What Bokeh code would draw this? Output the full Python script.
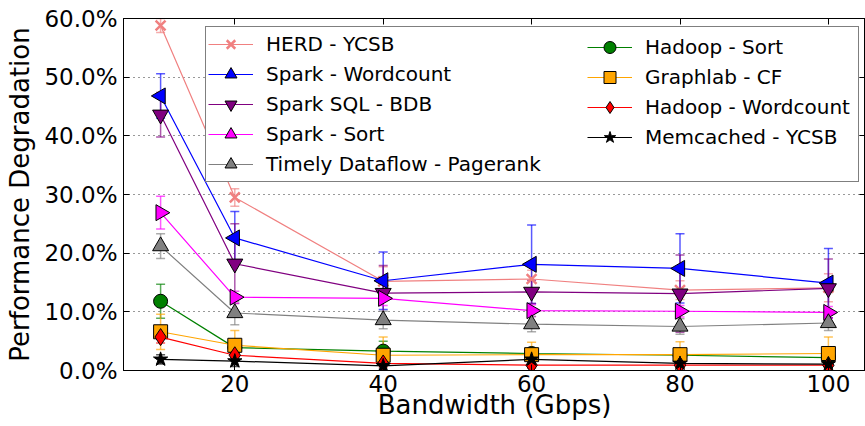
import math
from bokeh.plotting import figure
from bokeh.models import (Range1d, FixedTicker, PrintfTickFormatter, LinearAxis, Legend,
                          LegendItem, Whisker, ColumnDataSource, TeeHead)
from bokeh.embed import file_html
from bokeh.resources import INLINE

# ---------------- data ----------------
bandwidth = [10, 20, 40, 60, 80, 100]
x_ticks = [20, 40, 60, 80, 100]
y_ticks = [0, 10, 20, 30, 40, 50, 60]

names = ["HERD - YCSB", "Spark - Wordcount", "Spark SQL - BDB", "Spark - Sort",
         "Timely Dataflow - Pagerank", "Hadoop - Sort", "Graphlab - CF",
         "Hadoop - Wordcount", "Memcached - YCSB"]

herd = [58.8, 29.5, 15.2, 15.6, 13.7, 14.1]
herd_err = [1.2, 1.5, 2.5, 1.5, 1.6, 2.4]
spark_wc = [46.8, 22.6, 15.3, 18.1, 17.4, 14.9]
spark_wc_err = [3.8, 4.5, 4.9, 6.7, 5.9, 5.9]
spark_sql = [43.6, 18.2, 13.2, 13.4, 13.1, 14.0]
spark_sql_err = [3.8, 6.8, 4.7, 2.0, 6.6, 5.0]
spark_sort = [26.9, 12.5, 12.3, 10.2, 10.1, 9.9]
spark_sort_err = [2.8, 1.0, 1.2, 1.0, 1.0, 1.0]
timely = [21.2, 9.8, 8.6, 7.9, 7.5, 8.1]
timely_err = [2.1, 2.0, 1.5, 1.3, 1.3, 1.3]
hadoop_sort = [11.8, 3.9, 3.3, 2.9, 2.6, 2.2]
hadoop_sort_err = [2.9, 0.8, 1.7, 0.8, 0.8, 0.5]
graphlab = [6.6, 4.3, 2.6, 2.7, 2.7, 2.9]
graphlab_err = [3.0, 2.5, 3.1, 2.1, 2.2, 2.8]
hadoop_wc = [5.7, 2.6, 1.2, 0.9, 0.9, 0.9]
hadoop_wc_err = [1.0, 0.8, 0.6, 0.5, 0.5, 0.5]
memcached = [1.9, 1.6, 0.8, 1.9, 1.2, 1.1]
memcached_err = [0.8, 0.9, 0.6, 0.8, 0.6, 0.5]

series = [herd, spark_wc, spark_sql, spark_sort, timely, hadoop_sort, graphlab, hadoop_wc, memcached]
errors = [herd_err, spark_wc_err, spark_sql_err, spark_sort_err, timely_err,
          hadoop_sort_err, graphlab_err, hadoop_wc_err, memcached_err]

x_label = "Bandwidth (Gbps)"
y_label = "Performance Degradation"

# ---------------- styles ----------------
colors = ["#F08080", "blue", "purple", "magenta", "gray", "green", "orange", "red", "black"]
markers = ["x", "triangle", "inverted_triangle", "triangle", "triangle", "circle", "square", "diamond", "star"]
angles = [0, math.pi / 2, 0, -math.pi / 2, 0, 0, 0, 0, 0]
sizes = [14, 16, 16, 16, 16, 14, 14, 17, 15]

FONT = "DejaVu Sans"

p = figure(width=865, height=426, output_backend="svg", toolbar_location=None,
           x_range=Range1d(5, 105), y_range=Range1d(0, 60),
           min_border_left=123, min_border_right=0, min_border_top=18, min_border_bottom=56)
p.outline_line_color = "black"
p.outline_line_width = 1
p.background_fill_color = "white"
p.border_fill_color = "white"

p.xgrid.visible = False
p.ygrid.grid_line_color = "black"
p.ygrid.grid_line_dash = "1 4"
p.ygrid.grid_line_alpha = 0.8
p.ygrid.grid_line_width = 1

for ax in (p.xaxis[0], p.yaxis[0]):
    ax.major_tick_in = 6
    ax.major_tick_out = 0
    ax.minor_tick_in = 0
    ax.minor_tick_out = 0
    ax.major_label_text_font = FONT
    ax.major_label_text_font_size = "23px"
    ax.major_label_text_color = "black"
    ax.axis_label_text_font = FONT
    ax.axis_label_text_font_size = "26px"
    ax.axis_label_text_font_style = "normal"
    ax.axis_label_text_color = "black"
    ax.axis_line_color = "black"
    ax.major_tick_line_color = "black"

p.xaxis.ticker = FixedTicker(ticks=x_ticks)
p.yaxis.ticker = FixedTicker(ticks=y_ticks)
p.yaxis.formatter = PrintfTickFormatter(format="%.1f%%")
p.xaxis.axis_label = x_label
p.yaxis.axis_label = y_label
p.xaxis.major_label_standoff = 4
p.xaxis.axis_label_standoff = -5
p.yaxis.major_label_standoff = 6
p.yaxis.axis_label_standoff = 6

# top and right tick-only axes
top = LinearAxis(ticker=FixedTicker(ticks=x_ticks),
                 major_label_overrides={t: "" for t in x_ticks},
                 major_label_text_font_size="10px",
                 major_tick_in=6, major_tick_out=0, minor_tick_in=0, minor_tick_out=0,
                 major_label_standoff=0, axis_line_color="black")
right = LinearAxis(ticker=FixedTicker(ticks=y_ticks),
                   major_label_overrides={t: "" for t in y_ticks},
                   major_label_text_font_size="10px",
                   major_tick_in=6, major_tick_out=0, minor_tick_in=0, minor_tick_out=0,
                   major_label_standoff=0, axis_line_color="black")
p.add_layout(top, "above")
p.add_layout(right, "right")

items = []
for name, ys, err, col, mk, ang, sz in zip(names, series, errors, colors, markers, angles, sizes):
    lower = [y - e for y, e in zip(ys, err)]
    upper = [y + e for y, e in zip(ys, err)]
    src = ColumnDataSource(dict(x=bandwidth, y=ys, lower=lower, upper=upper))
    w = Whisker(source=src, base="x", lower="lower", upper="upper",
                line_color=col, line_alpha=0.65, line_width=1.5,
                upper_head=TeeHead(size=9, line_color=col, line_alpha=0.65, line_width=1.5),
                lower_head=TeeHead(size=9, line_color=col, line_alpha=0.65, line_width=1.5))
    p.add_layout(w)
    lr = p.line("x", "y", source=src, line_color=col, line_width=1.2)
    if mk == "x":
        sr = p.scatter("x", "y", source=src, marker=mk, size=sz, line_color=col, line_width=2.5)
    else:
        sr = p.scatter("x", "y", source=src, marker=mk, size=sz, angle=ang,
                       fill_color=col, line_color="black", line_width=1)
    items.append(LegendItem(label=name, renderers=[lr, sr]))

common = dict(label_text_font=FONT, label_text_font_size="20px", label_text_color="black",
              glyph_width=45, glyph_height=30, label_height=20, label_standoff=13,
              spacing=0, padding=2, margin=0)
leg_a = Legend(items=items[:5], location=(82, 188), border_line_color="black",
               border_line_width=1, background_fill_color="white", background_fill_alpha=1,
               label_width=590, **common)
leg_b = Legend(items=items[5:], location=(462, 216), border_line_alpha=0,
               background_fill_alpha=0, **common)
p.add_layout(leg_a, "center")
p.add_layout(leg_b, "center")

open("out.html", "w").write(file_html(p, INLINE))
